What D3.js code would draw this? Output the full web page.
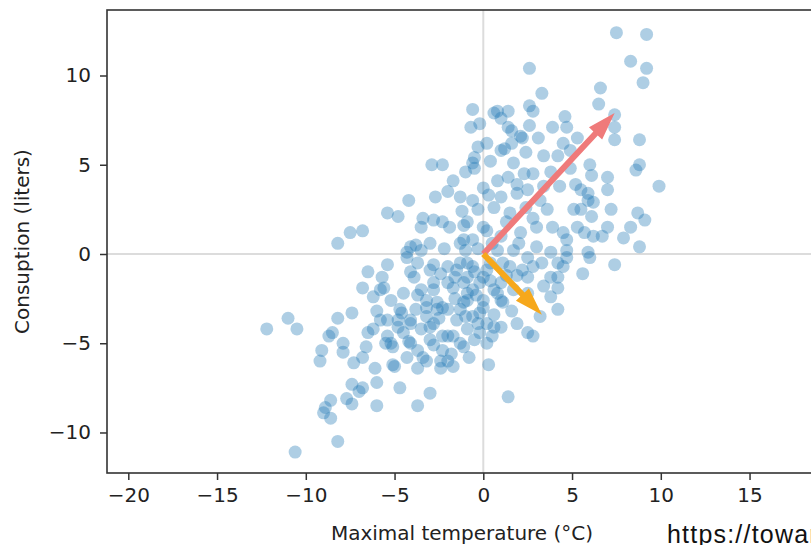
<!DOCTYPE html>
<html>
<head>
<meta charset="utf-8">
<script src="https://cdn.jsdelivr.net/npm/d3@7"></script>
<style>
  body { margin: 0; background: #fff; }
  svg { display: block; }
</style>
</head>
<body>
<svg id="chart"></svg>
<script>
// [temperature °C, consumption liters]
const readings = [
  [-8.9,-8.6],[-8.6,-8.2],[-8.6,-9.2],[-8.2,-10.5],[-10.6,-11.1],[-7.7,-8.1],[-7.4,-8.4],[-7.0,-7.7],
  [-6.8,-7.5],[-6.0,-8.5],[-6.0,-7.2],[-4.7,-7.5],[-3.0,-7.8],[-3.7,-8.5],[1.4,-8.0],[-9.0,-8.9],
  [-12.2,-4.2],[-11.0,-3.6],[-10.5,-4.2],[-8.2,-3.6],[-7.4,-3.3],[-8.7,-4.6],[-8.5,-4.4],[-7.9,-5.0],
  [-7.9,-5.5],[-9.1,-5.4],[-9.2,-6.0],[-7.3,-6.1],[-6.8,-5.8],[-7.4,-7.3],
  [-6.5,-1.0],[-6.8,-1.9],[-6.2,-2.4],[-5.7,-1.3],[-5.4,-0.6],[-5.8,-2.0],[-4.5,-2.2],[-4.3,-0.2],
  [-3.7,-0.5],[-3.9,-1.3],[-2.8,-0.6],[-2.0,-0.7],[-4.3,0.1],
  [-6.5,-4.4],[-6.2,-4.2],[-5.8,-3.7],[-5.5,-5.0],[-4.8,-4.1],[-4.6,-3.3],[-4.1,-3.7],[-5.2,-5.0],
  [-6.1,-6.4],[-5.0,-6.3],
  [-4.2,-4.9],[-3.7,-5.4],[-3.2,-6.0],[-2.4,-6.4],[-2.0,-6.0],[-3.2,-3.5],[-3.0,-4.1],[-3.5,-4.2],
  [-2.6,-2.7],[-2.0,-3.1],[-1.7,-4.6],[-1.3,-5.0],[-0.9,-4.2],[-0.6,-3.5],[-0.2,-4.4],[0.2,-5.0],
  [-1.7,-1.9],[-0.9,-2.6],[-0.6,-2.0],[-2.8,-2.0],[-2.0,-1.6],[-1.5,-0.9],[-0.9,-0.5],[0.0,-1.3],
  [-0.6,8.1],[0.6,7.9],[-0.7,7.1],[-0.2,7.3],[0.2,6.2],[-0.3,6.0],[-0.6,5.1],[-0.5,4.8],
  [-2.9,5.0],[-2.3,5.0],[-1.7,4.1],[-2.0,3.5],[-2.7,3.2],[-1.3,3.2],[-4.2,3.0],[-5.4,2.3],
  [-4.8,2.1],[-3.4,2.0],[-2.3,1.8],[-1.1,1.6],[0.0,3.7],[-0.6,3.0],[-0.3,2.5],[0.8,4.1],
  [0.6,2.6],[-7.5,1.2],[-6.8,1.3],[-8.2,0.6],[-3.8,0.5],[-1.1,0.8],[0.2,1.3],[1.0,5.8],
  [2.6,10.4],[3.3,9.0],[2.6,8.3],[2.8,8.0],[2.6,7.2],[0.8,8.0],[1.4,8.0],[1.0,7.6],
  [1.6,6.9],[2.2,6.5],[1.2,5.9],[-0.5,5.4],[2.4,5.7],[3.9,7.1],[4.7,7.1],[4.5,6.2],
  [5.3,6.5],[3.4,5.5],[4.2,5.5],[1.7,5.1],
  [7.5,12.4],[9.2,12.3],[8.3,10.8],[9.2,10.4],[9.0,9.6],[6.6,9.3],[6.5,8.4],[7.4,7.8],
  [7.4,7.1],[7.4,6.4],[8.8,6.4],[8.8,5.0],[9.9,3.8],[6.0,5.0],[6.1,4.4],[7.0,4.3],
  [7.0,3.6],[4.9,4.8],[4.3,3.8],[5.2,3.9],[5.9,3.4],[2.3,4.5],[2.8,4.5],[1.4,7.1],
  [2.1,6.6],[1.9,3.9],[3.4,3.8],[8.6,4.7],[5.9,3.0],[6.2,2.9],[5.5,2.5],[5.1,2.5],
  [6.1,2.1],[7.0,1.5],[8.3,1.5],[8.7,2.3],[9.1,1.9],[7.9,0.9],[8.8,0.4],[5.3,1.5],
  [5.7,1.2],[5.9,0.1],[6.7,1.0],[4.7,0.8],[4.7,0.2],[7.4,-0.6],[5.6,-1.1],[4.5,-0.7],
  [4.6,7.7],[1.4,4.3],[1.0,3.2],[1.9,3.4],[2.5,3.6],[1.5,2.3],[2.4,2.6],[3.2,3.0],
  [3.6,2.5],[3.9,1.5],[3.0,1.5],[2.1,1.2],[4.5,1.2],[5.5,3.6],[6.2,1.0],[7.2,2.5],
  [6.0,-0.2],[4.7,-0.2],[3.8,0.1],[4.2,-0.5],[3.0,0.4],[4.2,-1.3],[3.8,-2.4],[4.2,-3.1],
  [3.2,-3.5],[2.5,-2.2],[1.7,-2.0],[1.0,-1.6],[1.5,-0.7],[2.2,-0.9],[2.5,-0.2],[1.7,0.2],
  [0.8,0.2],[1.0,1.0],[0.0,1.5],[-0.9,1.8],[-1.9,1.5],[-2.8,1.9],[-1.3,0.6],[-0.6,0.8],
  [-4.1,0.4],[-3.5,0.2],[-1.3,-0.5],[-0.6,-0.7],[0.2,-0.9],[-0.9,-1.3],[-0.2,-1.6],[0.6,-2.0],
  [1.0,-2.6],[0.0,-2.6],[-0.9,-2.2],[-2.8,-1.6],[-3.2,-2.6],[-2.3,-3.0],[-1.3,-3.1],[0.2,-3.9],
  [1.0,-4.1],[1.9,-3.9],[2.5,-4.4],[2.8,-4.6],[-4.1,-3.9],[-2.3,-4.6],
  [3.8,-1.3],[4.2,-1.9],[0.5,-4.6],[2.5,-1.3],[2.8,-0.7],[1.1,-0.5],[1.1,-2.7],[0.0,-3.0],[-0.3,-3.9],
  [-5.6,-1.9],[-4.1,-1.0],[-3.7,-2.3],[-1.1,-1.6],[-3.2,-3.0],[-2.6,-3.1],[-1.1,-2.7],[-4.7,-3.1],
  [-4.8,-3.7],[-5.4,-3.7],[-2.8,-3.9],[-1.5,-3.7],[-0.2,-3.3],[0.8,-2.2],[0.6,-4.1],[-5.4,-4.6],
  [-5.1,-5.2],[-4.1,-5.0],[-2.8,-5.1],[-2.0,-4.6],[-1.1,-5.2],[-4.3,-5.8],[-3.4,-5.8],[-2.4,-6.0],
  [-2.3,-5.4],[-5.1,-6.2],[-1.7,-6.3],[-3.7,-6.4],[-3.5,1.5],[-0.8,-5.8],[0.3,-6.2],
  // dense core
  [-3.0,-0.9],[-2.4,-1.1],[-1.6,-1.3],[-0.5,-1.0],[0.4,-0.5],[-0.3,0.3],[0.5,0.6],[-1.0,0.2],
  [-2.2,0.3],[-3.0,0.6],[-1.6,-2.5],[-0.4,-2.3],[0.4,-1.5],[1.3,-1.2],[-2.5,-3.6],[-1.0,-3.5],
  [-0.5,-4.8],[-1.8,-5.6],[-3.0,-4.8],[-3.8,-3.1],[-4.5,-4.4],[-3.5,-2.0],[1.6,-3.2],[0.6,-3.4],
  [1.9,-1.2],[2.0,0.6],[3.3,-0.5],[3.4,-1.8],[1.3,1.8],[2.8,2.0],[0.3,3.3],[-1.0,4.6],
  [-1.2,2.4],[0.4,5.2],[1.6,6.2],[3.1,6.5],[3.8,4.6],[4.9,5.8],[-6.0,-3.2],[-5.2,-2.6],[-6.6,-5.2]
];

// principal component arrows, drawn from the origin
const arrowTips = [[7.4, 7.9], [3.3, -3.4]];
const arrowColors = ["#ef7a7a", "#f6a81c"];

const xTicks = [-20, -15, -10, -5, 0, 5, 10, 15];
const yTicks = [-10, -5, 0, 5, 10];

const W = 811, H = 545;
const plot = { left: 107, right: 817, top: 10, bottom: 473 };

const svg = d3.select("#chart").attr("width", W).attr("height", H);

const x = d3.scaleLinear().domain([-21.2, 18.8]).range([plot.left, plot.right]);
const y = d3.scaleLinear().domain([-12.27, 13.67]).range([plot.bottom, plot.top]);

// zero lines
svg.append("line")
  .attr("x1", plot.left).attr("x2", plot.right)
  .attr("y1", y(0)).attr("y2", y(0))
  .attr("stroke", "#dcdcdc").attr("stroke-width", 2);
svg.append("line")
  .attr("x1", x(0)).attr("x2", x(0))
  .attr("y1", plot.top).attr("y2", plot.bottom)
  .attr("stroke", "#dcdcdc").attr("stroke-width", 2);

// points
svg.append("g")
  .selectAll("circle")
  .data(readings)
  .enter()
  .append("circle")
  .attr("cx", d => x(d[0]))
  .attr("cy", d => y(d[1]))
  .attr("r", 6.5)
  .attr("fill", "#1f77b4")
  .attr("fill-opacity", 0.36);

// arrows
function arrowPath(tip) {
  const x0 = x(0), y0 = y(0), x1 = x(tip[0]), y1 = y(tip[1]);
  const len = Math.hypot(x1 - x0, y1 - y0);
  const ux = (x1 - x0) / len, uy = (y1 - y0) / len;
  const px = -uy, py = ux;
  const shaft = 3, headW = 9, headL = 28;
  const bx = x1 - ux * headL, by = y1 - uy * headL;
  const pts = [
    [x0 + px * shaft, y0 + py * shaft],
    [bx + px * shaft, by + py * shaft],
    [bx + px * headW, by + py * headW],
    [x1, y1],
    [bx - px * headW, by - py * headW],
    [bx - px * shaft, by - py * shaft],
    [x0 - px * shaft, y0 - py * shaft]
  ];
  return "M" + pts.map(p => p.join(",")).join("L") + "Z";
}

svg.append("g")
  .selectAll("path")
  .data(arrowTips)
  .enter()
  .append("path")
  .attr("d", d => arrowPath(d))
  .attr("fill", (d, i) => arrowColors[i]);

// axes
const xAxis = svg.append("g")
  .attr("transform", `translate(0,${plot.bottom})`)
  .call(d3.axisBottom(x).tickValues(xTicks).tickSize(7).tickPadding(8));
const yAxis = svg.append("g")
  .attr("transform", `translate(${plot.left},0)`)
  .call(d3.axisLeft(y).tickValues(yTicks).tickSize(7).tickPadding(9));

[xAxis, yAxis].forEach(g => {
  g.select(".domain").remove();
  g.selectAll(".tick line").attr("stroke", "#333").attr("stroke-width", 1.5);
  g.selectAll(".tick text")
    .attr("fill", "#222")
    .style("font-family", "DejaVu Sans")
    .style("font-size", "20px");
});

// spines
svg.append("rect")
  .attr("x", plot.left).attr("y", plot.top)
  .attr("width", plot.right - plot.left).attr("height", plot.bottom - plot.top)
  .attr("fill", "none").attr("stroke", "#333").attr("stroke-width", 1.6);

// labels
svg.append("text")
  .attr("x", (plot.left + plot.right) / 2).attr("y", 540)
  .attr("text-anchor", "middle")
  .style("font-family", "DejaVu Sans").style("font-size", "20px")
  .attr("fill", "#222")
  .text("Maximal temperature (°C)");

svg.append("text")
  .attr("transform", `translate(29,${(plot.top + plot.bottom) / 2}) rotate(-90)`)
  .attr("text-anchor", "middle")
  .style("font-family", "DejaVu Sans").style("font-size", "20px")
  .attr("fill", "#222")
  .text("Consuption (liters)");

svg.append("text")
  .attr("x", 667).attr("y", 543)
  .style("font-family", "Liberation Sans").style("font-size", "25px")
  .style("letter-spacing", "1.2px")
  .attr("fill", "#111")
  .text("https://towardsdatascience.com");
</script>
</body>
</html>
